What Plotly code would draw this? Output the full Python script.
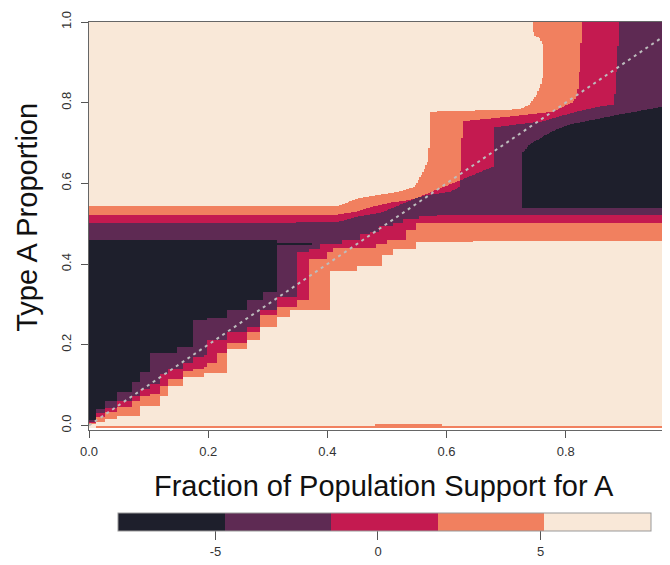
import numpy as np
import plotly.graph_objects as go

# ---------------- data ----------------
level_colors = ["#1e1f2c", "#5e2a53", "#c41a50", "#f1805f", "#f9e8d8"]   # dark -> light bins
level_values = [-6.36, -3.08, 0.20, 3.48, 6.76]                          # bin centre values
z_range = [-8.0, 8.4]
cbar_ticks = [-5, 0, 5]
x_ticks = [0.0, 0.2, 0.4, 0.6, 0.8]
y_ticks = [0.0, 0.2, 0.4, 0.6, 0.8, 1.0]
diag = [0.0, 1.0]
x_title = "Fraction of Population Support for A"
y_title = "Type A Proportion"

# lower boundaries (going up a column the value gets darker at these heights)
rise_x = [0.0000, 0.0134, 0.0268, 0.0487, 0.0721, 0.0856, 0.1023, 0.1191, 0.1326, 0.1477,
          0.1577, 0.1745, 0.1913, 0.1980, 0.2148, 0.2315, 0.2651, 0.2869, 0.2919, 0.3154,
          0.3372, 0.3490, 0.3708, 0.3758, 0.3876, 0.3993, 0.4044, 0.4094, 0.4262, 0.4497,
          0.4547, 0.4715, 0.4832, 0.4883, 0.4933, 0.5000, 0.5101, 0.5268, 0.5336, 0.5503,
          0.5554, 0.5839, 0.6443, 0.7265]
rise_1 = [0.002, 0.007, 0.014, 0.022, 0.022, 0.046, 0.046, 0.071, 0.096, 0.096,
          0.118, 0.118, 0.128, 0.128, 0.128, 0.190, 0.212, 0.245, 0.245, 0.270,
          0.287, 0.287, 0.287, 0.287, 0.287, 0.287, 0.381, 0.381, 0.381, 0.393,
          0.393, 0.393, 0.393, 0.393, 0.421, 0.421, 0.436, 0.436, 0.436, 0.453,
          0.453, 0.453, 0.456, 0.456]
rise_2 = [0.004, 0.019, 0.031, 0.044, 0.059, 0.071, 0.076, 0.096, 0.113, 0.113,
          0.133, 0.138, 0.143, 0.153, 0.180, 0.205, 0.232, 0.274, 0.274, 0.294,
          0.294, 0.312, 0.411, 0.411, 0.411, 0.428, 0.428, 0.438, 0.438, 0.438,
          0.438, 0.438, 0.448, 0.448, 0.448, 0.460, 0.460, 0.460, 0.485, 0.502,
          0.502, 0.502, 0.502, 0.502]
rise_3 = [0.007, 0.029, 0.041, 0.059, 0.071, 0.089, 0.101, 0.126, 0.138, 0.138,
          0.155, 0.168, 0.175, 0.212, 0.212, 0.232, 0.245, 0.287, 0.287, 0.319,
          0.319, 0.428, 0.436, 0.436, 0.448, 0.448, 0.448, 0.448, 0.460, 0.460,
          0.473, 0.480, 0.480, 0.493, 0.493, 0.493, 0.502, 0.512, 0.512, 0.512,
          0.520, 0.522, 0.522, 0.522]
rise_4 = [0.012, 0.039, 0.059, 0.081, 0.106, 0.131, 0.180, 0.180, 0.180, 0.193,
          0.193, 0.262, 0.262, 0.267, 0.267, 0.287, 0.312, 0.312, 0.329, 0.446,
          0.446, 0.446, 0.446, 9.0, 9.0, 9.0, 9.0, 9.0, 9.0, 9.0,
          9.0, 9.0, 9.0, 9.0, 9.0, 9.0, 9.0, 9.0, 9.0, 9.0,
          9.0, 9.0, 9.0, 0.540]

# upper boundaries (above these heights the value gets lighter again)
fall4_x = [0.0, 0.3154, 0.3160, 0.3758, 0.3800, 0.7265, 0.7399, 0.7785, 0.8071, 0.8910,
           0.9580, 0.9664, 0.9698, 1.0]
fall4_y = [0.459, 0.459, 0.452, 0.450, 0.460, 0.671, 0.696, 0.728, 0.745, 0.770,
           0.788, 0.788, 1.1, 1.1]
fall3_x = [0.0, 0.4161, 0.4497, 0.4715, 0.5000, 0.5268, 0.5554, 0.5839, 0.6174, 0.6780,
           0.6810, 0.7617, 0.8188, 0.8574, 0.8826, 0.8876, 0.8943, 1.0]
fall3_y = [0.500, 0.503, 0.517, 0.522, 0.530, 0.540, 0.547, 0.554, 0.559, 0.561,
           0.738, 0.753, 0.777, 0.790, 0.795, 0.907, 1.1, 1.1]
fall2_x = [0.0, 0.4161, 0.4497, 0.4715, 0.5050, 0.5386, 0.5671, 0.6057, 0.6225, 0.6275,
           0.6946, 0.7785, 0.8121, 0.8205, 0.8255, 0.8289, 1.0]
fall2_y = [0.522, 0.522, 0.530, 0.540, 0.552, 0.559, 0.571, 0.579, 0.591, 0.753,
           0.763, 0.777, 0.800, 0.820, 0.907, 1.1, 1.1]
fall1_x = [0.0, 0.4161, 0.4329, 0.4547, 0.4849, 0.5185, 0.5470, 0.5604, 0.5705, 0.5738,
           0.7232, 0.7399, 0.7517, 0.7617, 0.7668, 1.0]
fall1_y = [0.543, 0.543, 0.552, 0.564, 0.571, 0.579, 0.591, 0.626, 0.659, 0.777,
           0.783, 0.795, 0.820, 0.857, 1.1, 1.1]

# right edge of the light region near the top (by height)
bulge_y = [0.78, 0.795, 0.82, 0.852, 0.886, 0.936, 0.960, 0.968, 0.993, 1.01]
bulge_x = [0.723, 0.740, 0.752, 0.760, 0.765, 0.765, 0.757, 0.747, 0.745, 0.745]

# thin bottom row
bottom_row_y = [-0.009, -0.004]
bottom_thick_x = [0.48, 0.592]
bottom_thick_top = 0.001

# ---------------- build grid ----------------
x_cells = np.round(np.arange(0.00125, 0.977, 0.0025), 5)
y_cells = np.round(np.arange(-0.01, 1.0001, 0.0025), 5)


def step(xs, vals, x):
    i = np.searchsorted(np.array(xs), x, side="right") - 1
    return np.array(vals)[np.clip(i, 0, len(vals) - 1)]


R = np.stack([step(rise_x, r, x_cells) for r in (rise_1, rise_2, rise_3, rise_4)])
F = np.stack([np.interp(x_cells, fx, fy) for fx, fy in
              ((fall1_x, fall1_y), (fall2_x, fall2_y), (fall3_x, fall3_y), (fall4_x, fall4_y))])

X, Y = np.meshgrid(x_cells, y_cells)
up = (Y[None, :, :] >= R[:, None, :]).sum(0)
down = (Y[None, :, :] < F[:, None, :]).sum(0)
dark = np.minimum(up, down)
idx = 4 - dark

# trim the light region's rounded right side near the top
edge = np.interp(y_cells, bulge_y, bulge_x)[:, None]
idx[(idx == 4) & (Y >= bulge_y[0]) & (X > edge)] = 3
# light cells just right of the bulge that the column rule left light
idx[(Y >= bulge_y[0]) & (X > edge) & (X < 0.78) & (idx == 4)] = 3

Z = np.array(level_values)[idx].astype(float)
orange = level_values[3]
Z[(Y > bottom_row_y[0]) & (Y < bottom_row_y[1]) & (X > 0.012)] = orange
Z[(Y > bottom_row_y[0]) & (Y < bottom_thick_top) & (X >= bottom_thick_x[0]) & (X <= bottom_thick_x[1])] = orange
Z[Y < bottom_row_y[0]] = np.nan

cs = []
for i, c in enumerate(level_colors):
    cs += [[i / 5, c], [(i + 1) / 5, c]]

fig = go.Figure()
fig.add_trace(go.Heatmap(
    x=x_cells, y=y_cells, z=Z, colorscale=cs, zmin=z_range[0], zmax=z_range[1],
    zsmooth=False, hoverinfo="skip",
    colorbar=dict(orientation="h", thickness=18, thicknessmode="pixels",
                  len=533, lenmode="pixels", x=0.5086, xanchor="center",
                  y=-0.2034, yanchor="top", xpad=0, ypad=0,
                  tickvals=cbar_ticks, ticktext=[str(t) for t in cbar_ticks],
                  ticks="outside", ticklen=9, tickcolor="#555",
                  tickfont=dict(family="Liberation Sans", size=13, color="#333"),
                  outlinewidth=1, outlinecolor="#999"),
))
fig.add_trace(go.Scatter(x=diag, y=diag, mode="lines", hoverinfo="skip",
                         line=dict(color="#bdbdbd", width=2, dash="3px,4px"),
                         showlegend=False))

# the page body has an 8px margin, so the figure is 8px smaller and margins shifted
fig.update_layout(
    width=662, height=557, margin=dict(l=81, r=0, t=14, b=135, autoexpand=False),
    paper_bgcolor="white", plot_bgcolor="white", showlegend=False,
    font=dict(family="Liberation Sans", color="#222"),
    xaxis=dict(range=[0, 0.975], tickvals=x_ticks, ticktext=[f"{v:.1f}" for v in x_ticks],
               ticks="outside", ticklen=7, tickcolor="#555", showline=True,
               linecolor="#666", mirror=True, showgrid=False, zeroline=False,
               automargin=False, ticklabelstandoff=2,
               tickfont=dict(size=13, color="#333")),
    yaxis=dict(range=[-0.0114, 1.0], tickvals=y_ticks, ticktext=[f"{v:.1f}" for v in y_ticks],
               ticks="outside", ticklen=7, tickcolor="#555", tickangle=-90,
               showline=True, linecolor="#666", mirror=True, showgrid=False, zeroline=False,
               automargin=False, ticklabelstandoff=5,
               tickfont=dict(size=13, color="#333")),
    annotations=[
        dict(text=x_title, xref="paper", yref="paper", x=0.507, y=-0.137,
             xanchor="center", yanchor="middle", showarrow=False,
             font=dict(size=29, color="#111")),
        dict(text=y_title, xref="paper", yref="paper", x=-0.1067, y=0.52,
             xanchor="center", yanchor="middle", showarrow=False, textangle=-90,
             font=dict(size=29, color="#111")),
    ],
)

fig.write_html("out.html")
